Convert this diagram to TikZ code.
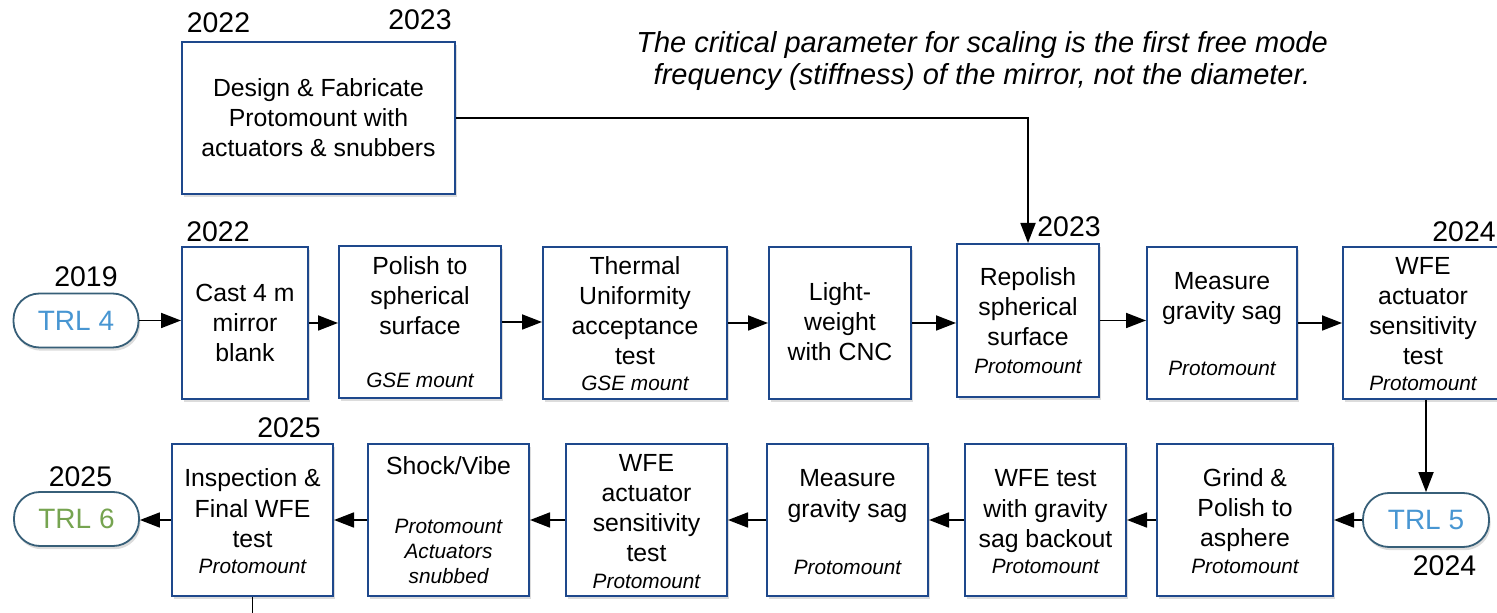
\documentclass[tikz,border=0pt]{standalone}
\usepackage{fontspec}
\setmainfont{Liberation Sans}
\usetikzlibrary{arrows.meta,shadows}
\definecolor{boxblue}{RGB}{30,72,140}
\definecolor{trlborder}{RGB}{55,95,120}
\definecolor{trlblue}{RGB}{72,150,210}
\definecolor{trlgreen}{RGB}{118,164,80}
\tikzset{
  stepbox/.style={draw=boxblue, line width=1pt, fill=white, inner sep=0pt,
    minimum height=76pt, drop shadow={shadow xshift=0.8pt, shadow yshift=-1.6pt, opacity=0.28}},
  trl/.style={draw=trlborder, line width=0.9pt, fill=white, rounded corners=13pt,
    minimum width=62.5pt, minimum height=27pt, inner sep=0pt,
    font=\fontsize{14}{17}\selectfont,
    drop shadow={shadow xshift=0.8pt, shadow yshift=-1.6pt, opacity=0.28}},
  mt/.style={align=center, inner sep=0pt, font=\fontsize{12.4}{15}\selectfont},
  st/.style={align=center, inner sep=0pt, font=\fontsize{10.4}{12.5}\selectfont\itshape},
  yr/.style={inner sep=0pt, font=\fontsize{14.2}{17}\selectfont},
  arr/.style={line width=0.9pt, -{Triangle[length=10pt,width=7.5pt]}},
  ln/.style={line width=0.9pt}
}
\begin{document}
\begin{tikzpicture}[x=0.5pt,y=-0.5pt]
\useasboundingbox (0,0) rectangle (1497,613);

% quote
\node[align=center, inner sep=0pt, font=\fontsize{14.5}{16}\selectfont\itshape] (quote) at (982,62)
  {\strut The critical parameter for scaling is the first free mode\\frequency (stiffness) of the mirror, not the diameter.\strut};

% top box
\node[stepbox, minimum width=136.5pt] (design) at (318.5,118) {};
\node[mt] (designt) at (318.5,121) {\strut Design \& Fabricate\\Protomount with\\actuators \& snubbers\strut};

% row 1
\node[trl, text=trlblue] (trl4) at (76,320.5) {TRL 4};
\node[stepbox, minimum width=63pt] (cast) at (245,323) {};
\node[stepbox, minimum width=81pt] (polish) at (420,322) {};
\node[stepbox, minimum width=92pt] (thermal) at (635,323) {};
\node[stepbox, minimum width=71pt] (light) at (840,323) {};
\node[stepbox, minimum width=71pt, minimum height=76.5pt] (repolish) at (1028,320.5) {};
\node[stepbox, minimum width=75pt] (measure) at (1222,323) {};
\node[stepbox, minimum width=78.5pt] (wfea) at (1421.5,323) {};

\node[mt] (castt) at (245,325.5) {\strut Cast 4 m\\mirror\\blank\strut};
\node[mt] (polisht) at (420,299) {\strut Polish to\\spherical\\surface\strut};
\node[st] (polishs) at (420,380) {GSE mount};
\node[mt] (thermalt) at (635,313.5) {\strut Thermal\\Uniformity\\acceptance\\test\strut};
\node[st] (thermals) at (635,383) {GSE mount};
\node[mt] (lightt) at (840,325) {\strut Light-\\weight\\with CNC\strut};
\node[mt] (repolisht) at (1028,310) {\strut Repolish\\spherical\\surface\strut};
\node[st] (repolishs) at (1028,366) {Protomount};
\node[mt] (measuret) at (1222,299) {\strut Measure\\gravity sag\strut};
\node[st] (measures) at (1222,368) {Protomount};
\node[mt] (wfeat) at (1423,313.5) {\strut WFE\\actuator\\sensitivity\\test\strut};
\node[st] (wfeas) at (1423,383) {Protomount};

% row 2
\node[trl, text=trlblue, minimum width=63pt] (trl5) at (1426,520) {TRL 5};
\node[trl, text=trlgreen] (trl6) at (76.5,519) {TRL 6};
\node[stepbox, minimum width=80.5pt] (insp) at (252.5,520) {};
\node[stepbox, minimum width=80.5pt] (shock) at (448.5,520) {};
\node[stepbox, minimum width=80.5pt] (wfeb) at (646.5,520) {};
\node[stepbox, minimum width=80.5pt] (meas2) at (847.5,520) {};
\node[stepbox, minimum width=80.5pt] (wfet) at (1045.5,520) {};
\node[stepbox, minimum width=88pt] (grind) at (1245,520) {};

\node[mt] (inspt) at (252.5,511) {\strut Inspection \&\\Final WFE\\test\strut};
\node[st] (insps) at (252.5,566) {Protomount};
\node[mt] (shockt) at (448.5,469) {\strut Shock/Vibe\strut};
\node[st] (shocks) at (448.5,553.5) {\strut Protomount\\Actuators\\snubbed\strut};
\node[mt] (wfebt) at (646.5,510.5) {\strut WFE\\actuator\\sensitivity\\test\strut};
\node[st] (wfebs) at (646.5,581) {Protomount};
\node[mt] (meas2t) at (847.5,496) {\strut Measure\\gravity sag\strut};
\node[st] (meas2s) at (847.5,567) {Protomount};
\node[mt] (wfett) at (1045.5,511) {\strut WFE test\\with gravity\\sag backout\strut};
\node[st] (wfets) at (1045.5,566) {Protomount};
\node[mt] (grindt) at (1245,510.5) {\strut Grind \&\\Polish to\\asphere\strut};
\node[st] (grinds) at (1245,566) {Protomount};

% years
\node[yr] (y1) at (218.5,23) {2022};
\node[yr] (y2) at (420,20) {2023};
\node[yr] (y3) at (218,232) {2022};
\node[yr] (y4) at (86,277) {2019};
\node[yr] (y5) at (1069,227) {2023};
\node[yr, anchor=east] (y6) at (1496,232) {2024};
\node[yr] (y7) at (289,428) {2025};
\node[yr] (y8) at (80.5,477) {2025};
\node[yr] (y9) at (1444.5,566) {2024};

% connectors row 1
\draw[arr] (trl4.east) -- (trl4.east -| cast.west);
\draw[arr] (cast.east) -- (cast.east -| polish.west);
\draw[arr] (polish.east) -- (polish.east -| thermal.west);
\draw[arr] (thermal.east) -- (thermal.east -| light.west);
\draw[arr] (light.east) -- (light.east -| repolish.west);
\draw[arr] (repolish.east) -- (repolish.east -| measure.west);
\draw[arr] (measure.east) -- (measure.east -| wfea.west);
\draw[arr] (design.east) -| (repolish.north);
\draw[arr] (wfea.south -| trl5.north) -- (trl5.north);

% connectors row 2
\draw[arr] (trl5.west) -- (trl5.west -| grind.east);
\draw[arr] (grind.west) -- (grind.west -| wfet.east);
\draw[arr] (wfet.west) -- (wfet.west -| meas2.east);
\draw[arr] (meas2.west) -- (meas2.west -| wfeb.east);
\draw[arr] (wfeb.west) -- (wfeb.west -| shock.east);
\draw[arr] (shock.west) -- (shock.west -| insp.east);
\draw[arr] (insp.west) -- (insp.west -| trl6.east);
\coordinate (bot) at (252.5,625);
\draw[ln] (insp.south) -- (bot);
\end{tikzpicture}
\end{document}
